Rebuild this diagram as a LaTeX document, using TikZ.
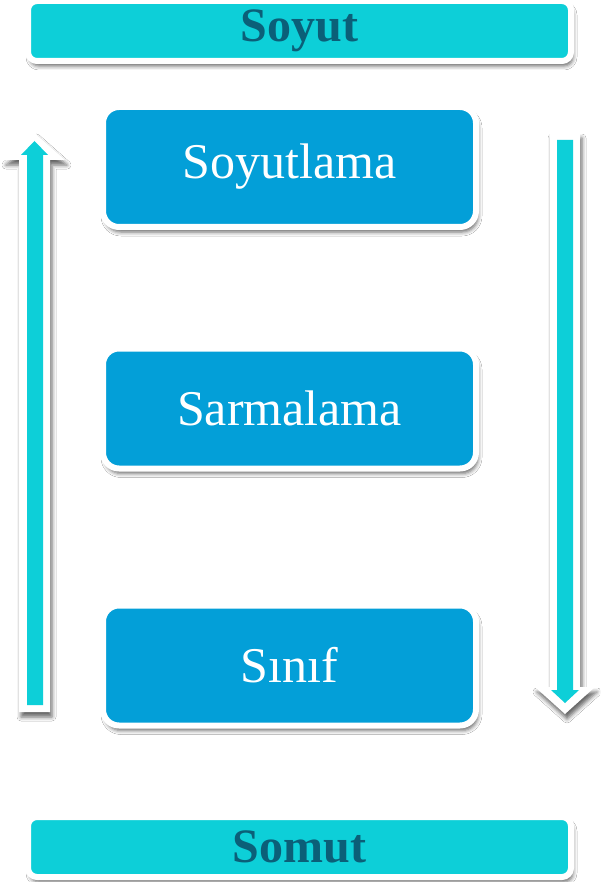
\documentclass[tikz,border=0pt]{standalone}
\usepackage{fontspec}
\setmainfont{Liberation Serif}
\usetikzlibrary{shadows.blur}
\definecolor{barcyan}{HTML}{0DCFD8}
\definecolor{boxblue}{HTML}{039FD8}
\definecolor{deepteal}{HTML}{0B5F78}

\begin{document}
\begin{tikzpicture}[x=1pt,y=-1pt,
  softshadow/.style={blur shadow={shadow xshift=2pt,shadow yshift=-5pt,shadow blur radius=4pt,shadow opacity=60}},
  bar/.style={fill=barcyan, draw=white, line width=6pt, rounded corners=9pt,
    minimum width=543pt, minimum height=60pt, inner sep=0pt, text=deepteal,
    font=\bfseries\fontsize{48}{48}\selectfont, softshadow},
  conceptbox/.style={fill=boxblue, draw=white, line width=6pt, rounded corners=16pt,
    minimum width=373pt, minimum height=120pt, inner sep=0pt, text=white,
    font=\fontsize{50}{50}\selectfont, softshadow},
  arrowrim/.style={fill=white, softshadow},
  arrowcore/.style={fill=barcyan}]

% page frame
\fill[white] (0,0) rectangle (600,882);
\useasboundingbox (0,0) rectangle (600,882);

% level bars
\node[bar] (abstract) at (299.5,31) {Soyut};
\node[bar] (concrete) at (299.5,847) {Somut};

% concept boxes
\node[conceptbox] (abstraction)   at (289.5,167)   {Soyutlama};
\node[conceptbox] (encapsulation) at (289.5,408.5) {Sarmalama};
\node[conceptbox] (classbox)      at (289.5,665.5) {Sınıf};

% upward arrow on the left: white rim, then cyan core
\fill[arrowrim] (19,712) -- (19,160) -- (4,160) -- (34.5,133) -- (65,160)
  -- (50,160) -- (50,712) -- cycle;
\fill[arrowcore] (27,705) -- (27,155) -- (21,155) -- (34.5,141) -- (48,155)
  -- (43,155) -- (43,705) -- cycle;

% downward arrow on the right: white rim, then cyan core
\fill[arrowrim] (550,133) -- (550,687) -- (535,687) -- (565,714) -- (595,687)
  -- (580,687) -- (580,133) -- cycle;
\fill[arrowcore] (557,140) -- (557,690) -- (551,690) -- (565,703) -- (579,690)
  -- (573,690) -- (573,140) -- cycle;
\end{tikzpicture}
\end{document}
